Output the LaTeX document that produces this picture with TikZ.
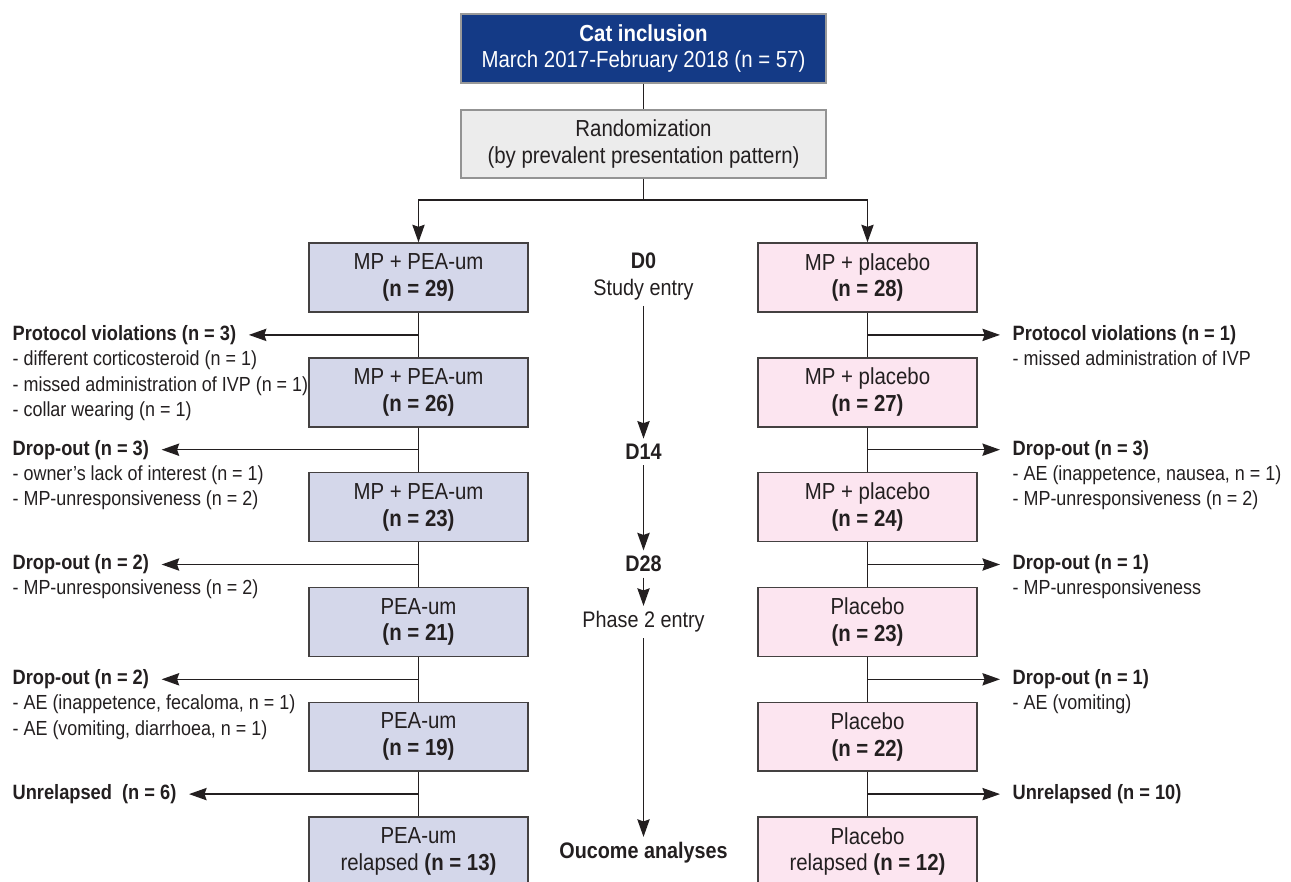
\documentclass[tikz,border=0pt]{standalone}
\usepackage{fontspec}
\setmainfont[FakeStretch=0.88]{Liberation Sans}
\usetikzlibrary{arrows.meta}
\usetikzlibrary{positioning}
\definecolor{inclblue}{RGB}{20,58,134}
\definecolor{peafill}{RGB}{212,215,234}
\definecolor{plcfill}{RGB}{252,229,240}
\definecolor{randfill}{RGB}{236,236,236}
\definecolor{inkgray}{RGB}{35,31,32}

\begin{document}
\begin{tikzpicture}[x=0.02cm,y=-0.02cm,
	every node/.style={text=inkgray},
	boxtext/.style={font=\fontsize{13.2}{15.3}\selectfont,align=center,inner sep=0pt},
	armbox/.style={boxtext,draw=inkgray!85,line width=0.8pt,minimum width=4.38cm,minimum height=1.38cm},
	peabox/.style={armbox,fill=peafill},
	plcbox/.style={armbox,fill=plcfill},
	headlabel/.style={font=\fontsize{11.8}{14.2}\selectfont\bfseries,inner xsep=7pt,inner ysep=0pt,anchor=west},
	sublabel/.style={font=\fontsize{11.6}{14.7}\selectfont,align=left,inner sep=0pt},
	daylabel/.style={font=\fontsize{12.8}{15.3}\selectfont,align=center,inner xsep=0pt,inner ysep=3pt},
	tip/.style={-{Stealth[length=10pt,width=7pt,inset=1.2pt]},line width=0.9pt,draw=inkgray},
	link/.style={line width=0.9pt,draw=inkgray}]

		\useasboundingbox (0,0) rectangle (1291,882);
		\clip (0,0) rectangle (1291,882);

		\node[boxtext,draw=gray!80,line width=0.8pt,fill=inclblue,text=white,minimum width=7.3cm,minimum height=1.38cm] (incl) at (643.5,48.5) {\textbf{Cat inclusion}\\March 2017-February 2018 (n = 57)};
		\node[boxtext,draw=gray!85,line width=0.8pt,fill=randfill,minimum width=7.3cm,minimum height=1.36cm] (rand) at (643.5,144) {Randomization\\(by prevalent presentation pattern)};
		\coordinate (split) at (643.5,200);

		\node[peabox] (pea1) at (418.5,277.5) {MP + PEA-um\\\textbf{(n = 29)}};
		\node[peabox] (pea2) at (418.5,392.3) {MP + PEA-um\\\textbf{(n = 26)}};
		\node[peabox] (pea3) at (418.5,507.1) {MP + PEA-um\\\textbf{(n = 23)}};
		\node[peabox] (pea4) at (418.5,621.9) {PEA-um\\\textbf{(n = 21)}};
		\node[peabox] (pea5) at (418.5,736.7) {PEA-um\\\textbf{(n = 19)}};
		\node[peabox] (pea6) at (418.5,851.5) {PEA-um\\relapsed \textbf{(n = 13)}};

		\node[plcbox] (plc1) at (867.5,277.5) {MP + placebo\\\textbf{(n = 28)}};
		\node[plcbox] (plc2) at (867.5,392.3) {MP + placebo\\\textbf{(n = 27)}};
		\node[plcbox] (plc3) at (867.5,507.1) {MP + placebo\\\textbf{(n = 24)}};
		\node[plcbox] (plc4) at (867.5,621.9) {Placebo\\\textbf{(n = 23)}};
		\node[plcbox] (plc5) at (867.5,736.7) {Placebo\\\textbf{(n = 22)}};
		\node[plcbox] (plc6) at (867.5,851.5) {Placebo\\relapsed \textbf{(n = 12)}};

		\node[daylabel] (d0) at (643.5,276.5) {\textbf{D0}\\Study entry};
		\node[daylabel] (d14) at (643.5,452) {\textbf{D14}};
		\node[daylabel] (d28) at (643.5,564) {\textbf{D28}};
		\node[daylabel] (ph2) at (643.5,622) {Phase 2 entry};
		\node[daylabel] (outc) at (643.5,853) {\textbf{Oucome analyses}};

		\node[headlabel] (lpv) at (0,334.9) {Protocol violations (n = 3)};
		\node[sublabel,below right=3pt and 7pt of lpv.south west] (lpvd) {- different corticosteroid (n = 1)\\- missed administration of IVP (n = 1)\\- collar wearing (n = 1)};
		\node[headlabel] (ldo1) at (0,449.7) {Drop-out (n = 3)};
		\node[sublabel,below right=3pt and 7pt of ldo1.south west] (ldo1d) {- owner's lack of interest (n = 1)\\- MP-unresponsiveness (n = 2)};
		\node[headlabel] (ldo2) at (0,564.5) {Drop-out (n = 2)};
		\node[sublabel,below right=3pt and 7pt of ldo2.south west] (ldo2d) {- MP-unresponsiveness (n = 2)};
		\node[headlabel] (ldo3) at (0,679.3) {Drop-out (n = 2)};
		\node[sublabel,below right=3pt and 7pt of ldo3.south west] (ldo3d) {- AE (inappetence, fecaloma, n = 1)\\- AE (vomiting, diarrhoea, n = 1)};
		\node[headlabel] (lunr) at (0,794.1) {Unrelapsed\ \ (n = 6)};

		\node[headlabel] (rpv) at (1000,334.9) {Protocol violations (n = 1)};
		\node[sublabel,below right=3pt and 7pt of rpv.south west] (rpvd) {- missed administration of IVP};
		\node[headlabel] (rdo1) at (1000,449.7) {Drop-out (n = 3)};
		\node[sublabel,below right=3pt and 7pt of rdo1.south west] (rdo1d) {- AE (inappetence, nausea, n = 1)\\- MP-unresponsiveness (n = 2)};
		\node[headlabel] (rdo2) at (1000,564.5) {Drop-out (n = 1)};
		\node[sublabel,below right=3pt and 7pt of rdo2.south west] (rdo2d) {- MP-unresponsiveness};
		\node[headlabel] (rdo3) at (1000,679.3) {Drop-out (n = 1)};
		\node[sublabel,below right=3pt and 7pt of rdo3.south west] (rdo3d) {- AE (vomiting)};
		\node[headlabel] (runr) at (1000,794.1) {Unrelapsed (n = 10)};

		\draw[link] (incl) -- (rand);
		\draw[link] (rand) -- (split);
		\draw[tip] (split) -| (pea1);
		\draw[tip] (split) -| (plc1);

		\draw[link] (pea1) -- (pea2) -- (pea3) -- (pea4) -- (pea5) -- (pea6);
		\draw[link] (plc1) -- (plc2) -- (plc3) -- (plc4) -- (plc5) -- (plc6);

		\draw[tip] (pea1.south |- lpv.east) -- (lpv);
		\draw[tip] (pea2.south |- ldo1.east) -- (ldo1);
		\draw[tip] (pea3.south |- ldo2.east) -- (ldo2);
		\draw[tip] (pea4.south |- ldo3.east) -- (ldo3);
		\draw[tip] (pea5.south |- lunr.east) -- (lunr);

		\draw[tip] (plc1.south |- rpv.west) -- (rpv);
		\draw[tip] (plc2.south |- rdo1.west) -- (rdo1);
		\draw[tip] (plc3.south |- rdo2.west) -- (rdo2);
		\draw[tip] (plc4.south |- rdo3.west) -- (rdo3);
		\draw[tip] (plc5.south |- runr.west) -- (runr);

		\draw[tip] (d0) -- (d14);
		\draw[tip] (d14) -- (d28);
		\draw[tip] (d28) -- (ph2);
		\draw[tip] (ph2) -- (outc);
\end{tikzpicture}
\end{document}
